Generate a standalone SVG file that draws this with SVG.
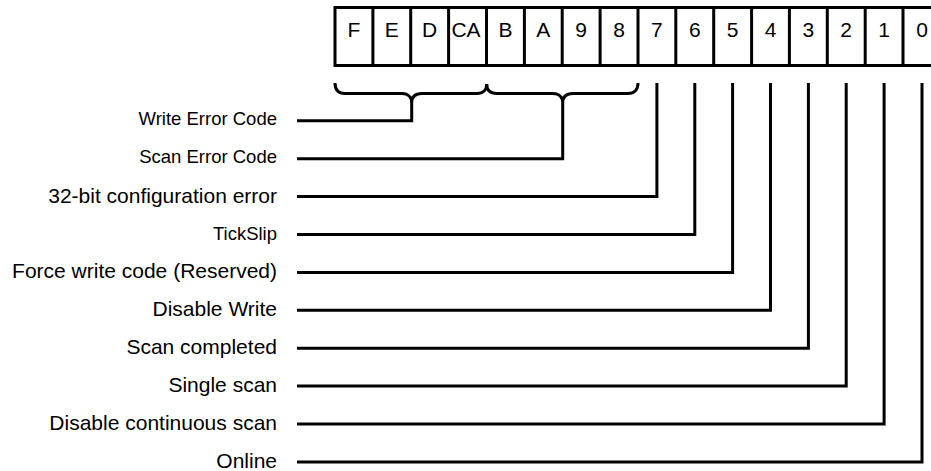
<svg xmlns="http://www.w3.org/2000/svg" width="931" height="471" viewBox="0 0 931 471">
  <style>
    .ln { fill: none; stroke: #000; stroke-width: 3; stroke-linejoin: miter; stroke-linecap: butt; }
    .cell { fill: #fff; stroke: #000; stroke-width: 3; }
    .bit { font-family: "Liberation Sans", Arial, sans-serif; font-size: 21px; fill: #000; text-anchor: middle; }
    .lbl { font-family: "Liberation Sans", Arial, sans-serif; font-size: 21px; fill: #000; text-anchor: end; }
    .sm { font-size: 18.5px; }
  </style>

  <!-- 16-bit register: one cell per bit, F (MSB) to 0 (LSB) -->
  <g id="register">
    <rect class="cell" x="335" y="7.5" width="606" height="58"/>
    <path class="ln" d="M372.9,7.5V65.5 M410.7,7.5V65.5 M448.6,7.5V65.5 M486.5,7.5V65.5 M524.4,7.5V65.5 M562.2,7.5V65.5 M600.1,7.5V65.5 M638,7.5V65.5 M675.8,7.5V65.5 M713.7,7.5V65.5 M751.6,7.5V65.5 M789.4,7.5V65.5 M827.3,7.5V65.5 M865.2,7.5V65.5 M903,7.5V65.5"/>
    <text class="bit" x="353.9" y="36.5">F</text>
    <text class="bit" x="391.8" y="36.5">E</text>
    <text class="bit" x="429.7" y="36.5">D</text>
    <text class="bit" x="466" y="36.5">CA</text>
    <text class="bit" x="505.4" y="36.5">B</text>
    <text class="bit" x="543.3" y="36.5">A</text>
    <text class="bit" x="581.2" y="36.5">9</text>
    <text class="bit" x="619" y="36.5">8</text>
    <text class="bit" x="656.9" y="36.5">7</text>
    <text class="bit" x="694.8" y="36.5">6</text>
    <text class="bit" x="732.6" y="36.5">5</text>
    <text class="bit" x="770.5" y="36.5">4</text>
    <text class="bit" x="808.4" y="36.5">3</text>
    <text class="bit" x="846.2" y="36.5">2</text>
    <text class="bit" x="884.1" y="36.5">1</text>
    <text class="bit" x="922" y="36.5">0</text>
  </g>

  <!-- field labels -->
  <g id="write-error-code"><text class="lbl sm" x="277" y="124.8">Write Error Code</text></g>
  <g id="scan-error-code"><text class="lbl sm" x="277" y="162.7">Scan Error Code</text></g>
  <g id="config-error"><text class="lbl" x="277" y="202.6">32-bit configuration error</text></g>
  <g id="tickslip"><text class="lbl sm" x="277" y="239.5">TickSlip</text></g>
  <g id="force-write"><text class="lbl" x="277" y="278.4">Force write code (Reserved)</text></g>
  <g id="disable-write"><text class="lbl" x="277" y="316.3">Disable Write</text></g>
  <g id="scan-completed"><text class="lbl" x="277" y="354.2">Scan completed</text></g>
  <g id="single-scan"><text class="lbl" x="277" y="392.1">Single scan</text></g>
  <g id="disable-continuous"><text class="lbl" x="277" y="430">Disable continuous scan</text></g>
  <g id="online"><text class="lbl" x="277" y="467.9">Online</text></g>

  <!-- connectors: braces for multi-bit fields, elbow leaders for single bits -->
  <g id="connectors">
    <path class="ln" d="M335,83 C335,90 338,93.5 345,93.5 H402 C408,93.5 411.7,97 411.7,103 M411.7,103 C411.7,97 415,93.5 422,93.5 H477 C483,93.5 486.7,90 486.7,84"/>
    <path class="ln" d="M486.7,84 C486.7,90 490,93.5 497,93.5 H553 C559,93.5 562.7,97 562.7,103 M562.7,103 C562.7,97 566,93.5 573,93.5 H628 C634,93.5 638,90 638,83"/>
    <path class="ln" d="M411.7,103 V120.8 H297"/>
    <path class="ln" d="M562.7,103 V158.7 H297"/>
    <path class="ln" d="M656.9,83 V196.6 H297"/>
    <path class="ln" d="M694.8,83 V234.5 H297"/>
    <path class="ln" d="M732.6,83 V272.4 H297"/>
    <path class="ln" d="M770.5,83 V310.3 H297"/>
    <path class="ln" d="M808.4,83 V348.2 H297"/>
    <path class="ln" d="M846.2,83 V386.1 H297"/>
    <path class="ln" d="M884.1,83 V424 H297"/>
    <path class="ln" d="M922,83 V461.9 H297"/>
  </g>
</svg>
